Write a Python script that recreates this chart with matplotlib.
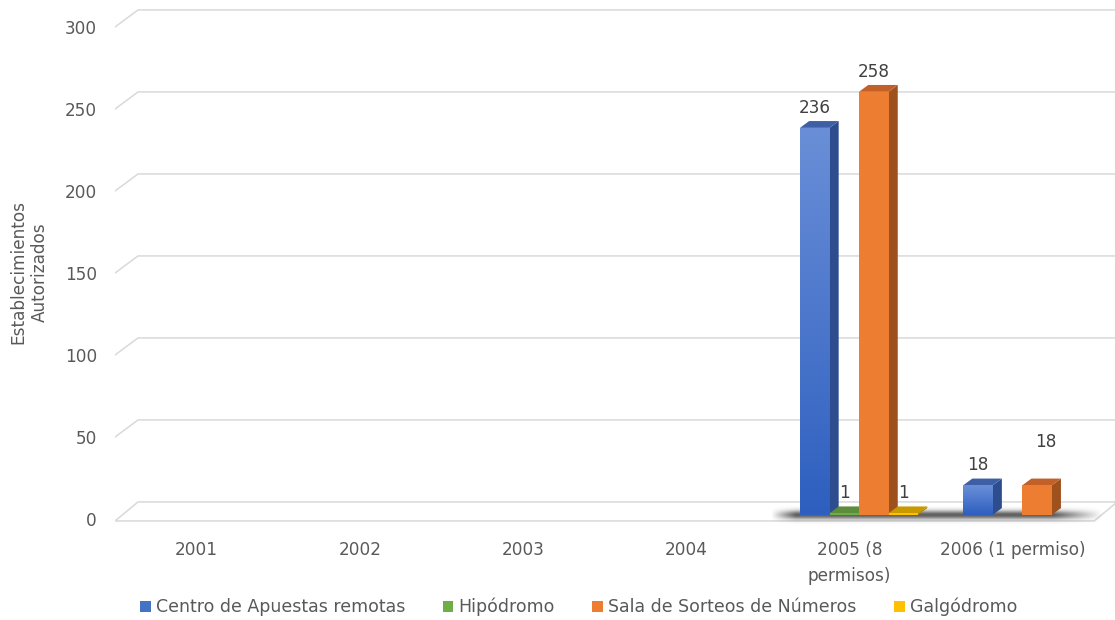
import numpy as np
import matplotlib.pyplot as plt
from matplotlib.patches import Polygon, Patch, Rectangle
from matplotlib.colors import to_rgb

plt.rcParams['font.family'] = ['DejaVu Sans']

years = ['2001', '2002', '2003', '2004', '2005 (8\npermisos)', '2006 (1 permiso)']
centro = [0, 0, 0, 0, 236, 18]
hipodromo = [0, 0, 0, 0, 1, 0]
sala = [0, 0, 0, 0, 258, 18]
galgodromo = [0, 0, 0, 0, 1, 0]
series_names = ['Centro de Apuestas remotas', 'Hipódromo',
                'Sala de Sorteos de Números', 'Galgódromo']
yticks = [0, 50, 100, 150, 200, 250, 300]

series = [centro, hipodromo, sala, galgodromo]
# front, side, top colours for each series
faces = [('#4a76cc', '#2d4d8e', '#3e5fa6'),
         ('#70ad47', '#4f7b33', '#5b8d3a'),
         ('#ed7d31', '#9e501d', '#c2602a'),
         ('#ffc000', '#b38700', '#c89a00')]
text_col = '#595959'
grid_col = '#d9d9d9'

# 3-D look: depth of the floor in data units, and where bars sit in depth
DX, DY = 0.141, 10.4
f0, f1 = 0.24, 0.64
bw = 0.181
group_shift = 0.025

fig = plt.figure(figsize=(11.15, 6.2), dpi=100)
ax = fig.add_axes([115 / 1115, (620 - 527.2) / 620, 1000 / 1115, 527.2 / 620])
xmax = -0.5 + 1000 / 163.2
ax.set_xlim(-0.5, xmax)
ax.set_ylim(-5, 519 / 1.64)
for s in ax.spines.values():
    s.set_visible(False)

# back wall gridlines with their diagonal returns
for v in yticks[1:]:
    ax.plot([-0.5, -0.5 + DX, xmax], [v, v + DY, v + DY], color=grid_col,
            lw=1.1, zorder=1, solid_joinstyle='miter')

# floor
floor = Polygon([(-0.5, -1.2), (5.5, -1.2), (5.5 + DX, DY), (-0.5 + DX, DY)],
                closed=True, facecolor='white', edgecolor=grid_col, lw=1.1, zorder=1)
ax.add_patch(floor)
ax.plot([5.5 + DX, xmax], [DY, DY], color=grid_col, lw=1.1, zorder=1)

# soft shadow on the floor under the bars
sx0, sx1 = 3.52, 5.55
sy0, sy1 = -4.5, 9.0
xs = np.linspace(sx0, sx1, 400)
ys = np.linspace(sy0, sy1, 80)
hx = np.clip((xs - sx0) / 0.15, 0, 1) * np.clip((sx1 - xs) / 0.3, 0, 1)
hy = np.exp(-((ys - 2.0) / 2.6) ** 2)
alpha = 0.7 * np.outer(hy, hx)
shadow = np.zeros((len(ys), len(xs), 4))
shadow[..., :3] = 0.1
shadow[..., 3] = alpha
ax.imshow(shadow, extent=(sx0, sx1, sy0, sy1), origin='lower', aspect='auto',
          interpolation='bilinear', zorder=2)

ox0, oy0 = f0 * DX, f0 * DY
ox1, oy1 = f1 * DX, f1 * DY
label_offsets = {(2, 5): (9, 43)}

for c in range(len(years)):
    for i, vals in enumerate(series):
        v = vals[c]
        if v == 0:
            continue
        front, side, top = faces[i]
        x0 = c + group_shift - 2 * bw + i * bw
        xl, xr = x0 + ox0, x0 + bw + ox0
        # side face
        ax.add_patch(Polygon([(xr, oy0), (x0 + bw + ox1, oy1),
                              (x0 + bw + ox1, v + oy1), (xr, v + oy0)],
                             closed=True, facecolor=side, lw=0, zorder=3))
        # top face
        ax.add_patch(Polygon([(xl, v + oy0), (xr, v + oy0),
                              (x0 + bw + ox1, v + oy1), (x0 + ox1, v + oy1)],
                             closed=True, facecolor=top, lw=0, zorder=3))
        # front face
        rect = Rectangle((xl, oy0), bw, v, facecolor=front, lw=0, zorder=3)
        ax.add_patch(rect)
        if i == 0:
            c_top = np.array(to_rgb('#6a8fd8'))
            c_bot = np.array(to_rgb('#2e5fbf'))
            t = np.linspace(0, 1, 128)[:, None]
            grad = (c_bot * (1 - t) + c_top * t)[:, None, :]
            im = ax.imshow(grad, extent=(xl, xr, oy0, v + oy0), origin='lower',
                           aspect='auto', zorder=3.5, interpolation='bilinear')
            im.set_clip_path(rect)
        dx, dy = label_offsets.get((i, c), (0, 20))
        ax.annotate(str(v), (xl + bw / 2, v + oy0), xytext=(dx * 0.72, dy * 0.72),
                    textcoords='offset points', ha='center', va='center',
                    fontsize=12.2, color='#404040', zorder=5)

ax.set_xticks(range(len(years)))
ax.set_xticklabels(years)
ax.set_yticks(yticks)
ax.tick_params(axis='both', length=0, labelsize=12.2, labelcolor=text_col)
ax.tick_params(axis='x', pad=10)
ax.tick_params(axis='y', pad=13)
ax.set_yticklabels([str(v) for v in yticks])
for lab in ax.get_xticklabels():
    lab.set_verticalalignment('top')
    lab.set_linespacing(1.55)

fig.text(29 / 1115, 1 - 272 / 620, 'Establecimientos\nAutorizados', rotation=90,
         ha='center', va='center', fontsize=12.2, color=text_col, linespacing=1.2)

handles = [Patch(facecolor=f[0] if k != 0 else '#4472c4', edgecolor='none')
           for k, f in enumerate(faces)]
fig.legend(handles, series_names, loc='center', bbox_to_anchor=(0.519, 1 - 607 / 620),
           ncol=4, frameon=False, fontsize=12.5, handlelength=0.62, handleheight=0.62,
           handletextpad=0.3, columnspacing=2.15, labelcolor=text_col)

fig.savefig('out.png', dpi=100)
